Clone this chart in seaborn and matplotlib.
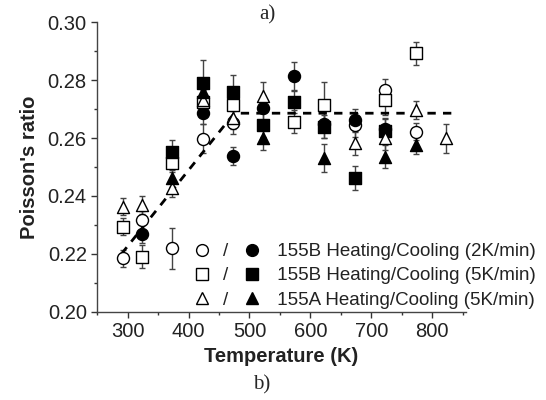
import matplotlib
matplotlib.use('Agg')
import matplotlib.pyplot as plt
from matplotlib.ticker import MultipleLocator
import numpy as np
import seaborn as sns

sns.set_style('ticks')
plt.rcParams['font.family'] = ['Liberation Sans', 'DejaVu Sans']

nan = np.nan
temps = [293, 323, 373, 423, 473, 523, 573, 623, 673, 723, 773, 823]

# 155B 2K/min
b2_heat = [0.2184, 0.2317, 0.2219, 0.2597, 0.2653, nan, nan, nan, 0.2645, 0.2766, 0.2622, nan]
b2_heat_err = [0.003, 0.003, 0.007, 0.005, 0.004, nan, nan, nan, 0.004, 0.004, 0.003, nan]
b2_cool = [nan, 0.2268, nan, 0.2688, 0.2538, 0.2704, 0.2814, 0.2650, 0.2662, 0.2630, nan, nan]
b2_cool_err = [nan, 0.003, nan, 0.004, 0.003, 0.004, 0.005, 0.005, 0.004, 0.004, nan, nan]
# 155B 5K/min
b5_heat = [0.2294, 0.2190, 0.2513, 0.2726, 0.2714, nan, 0.2657, 0.2714, nan, 0.2731, 0.2893, nan]
b5_heat_err = [0.003, 0.004, 0.003, 0.004, 0.004, nan, 0.004, 0.008, nan, 0.005, 0.004, nan]
b5_cool = [nan, nan, 0.2553, 0.2791, 0.2758, 0.2645, 0.2726, 0.2640, 0.2462, 0.2625, nan, nan]
b5_cool_err = [nan, nan, 0.004, 0.008, 0.006, 0.004, 0.004, 0.004, 0.004, 0.004, nan, nan]
# 155A 5K/min
a5_heat = [0.2363, 0.2369, 0.2426, 0.2730, 0.2670, 0.2745, nan, nan, 0.2583, 0.2600, 0.2697, 0.2600]
a5_heat_err = [0.003, 0.003, 0.003, 0.004, 0.004, 0.005, nan, nan, 0.004, 0.004, 0.003, 0.005]
a5_cool = [nan, nan, 0.2461, 0.2760, nan, 0.2600, nan, 0.2531, nan, 0.2536, 0.2576, nan]
a5_cool_err = [nan, nan, 0.003, 0.004, nan, 0.004, nan, 0.005, nan, 0.004, 0.003, nan]

guide_t = [290, 475, 840]
guide_v = [0.2200, 0.2686, 0.2686]

labels = ['155B Heating/Cooling (2K/min)',
          '155B Heating/Cooling (5K/min)',
          '155A Heating/Cooling (5K/min)']

fig = plt.figure(figsize=(5.46, 4), dpi=100)
ax = fig.add_axes([0.178, 0.221, 0.675, 0.723])

series = [
    (b2_heat, b2_heat_err, 'o', 'white'),
    (b2_cool, b2_cool_err, 'o', 'black'),
    (b5_heat, b5_heat_err, 's', 'white'),
    (b5_cool, b5_cool_err, 's', 'black'),
    (a5_heat, a5_heat_err, '^', 'white'),
    (a5_cool, a5_cool_err, '^', 'black'),
]

for vals, errs, mk, fc in series:
    ax.errorbar(temps, vals, yerr=errs, fmt='none', ecolor='#444444',
                elinewidth=1, capsize=2.5, capthick=1, zorder=2)

sns.lineplot(x=guide_t, y=guide_v, color='black', linewidth=2, ax=ax, zorder=3)
ax.lines[-1].set_dashes([3, 2.6])

handles = []
for vals, errs, mk, fc in series:
    sns.scatterplot(x=temps, y=vals, marker=mk, color=fc, edgecolor='black',
                    linewidth=1, s=75, ax=ax, zorder=4)
    h, = ax.plot([], [], linestyle='none', marker=mk, markerfacecolor=fc,
                 markeredgecolor='black', markersize=8.5, markeredgewidth=1)
    handles.append(h)

ax.set_xlim(250, 855)
ax.set_ylim(0.20, 0.30)
ax.xaxis.set_major_locator(MultipleLocator(100))
ax.xaxis.set_minor_locator(MultipleLocator(50))
ax.yaxis.set_major_locator(MultipleLocator(0.02))
ax.yaxis.set_minor_locator(MultipleLocator(0.01))
ax.yaxis.set_major_formatter(matplotlib.ticker.FormatStrFormatter('%.2f'))
ax.tick_params(which='major', length=4, width=1, labelsize=14.5, colors='#333333', labelcolor='#222222')
ax.tick_params(which='minor', length=2.5, width=1, colors='#333333')
for sp in ['top', 'right']:
    ax.spines[sp].set_visible(False)
for sp in ['left', 'bottom']:
    ax.spines[sp].set_color('#444444')
    ax.spines[sp].set_linewidth(1)

ax.set_xlabel('Temperature (K)', fontweight='bold', fontsize=14.5, color='#222222', labelpad=4)
ax.set_ylabel("Poisson's ratio", fontweight='bold', fontsize=14.5, color='#222222', labelpad=6)

# legend: open marker "/" filled marker label
leg_handles = [handles[0], handles[2], handles[4], handles[1], handles[3], handles[5]]
leg_labels = ['/', '/', '/'] + [' ' + s for s in labels]
leg = ax.legend(leg_handles, leg_labels, ncol=2, loc='lower left',
                bbox_to_anchor=(0.26, 0.01), frameon=False, fontsize=13.5,
                handlelength=1.0, handletextpad=0.6, columnspacing=0.75,
                labelspacing=0.38, borderpad=0, borderaxespad=0)
for t in leg.get_texts():
    t.set_color('#222222')

fig.text(0.49, 0.962, 'a)', family='Liberation Serif', fontsize=15, ha='center', va='center')
fig.text(0.48, 0.037, 'b)', family='Liberation Serif', fontsize=15, ha='center', va='center')

plt.savefig('out.png', dpi=100)
